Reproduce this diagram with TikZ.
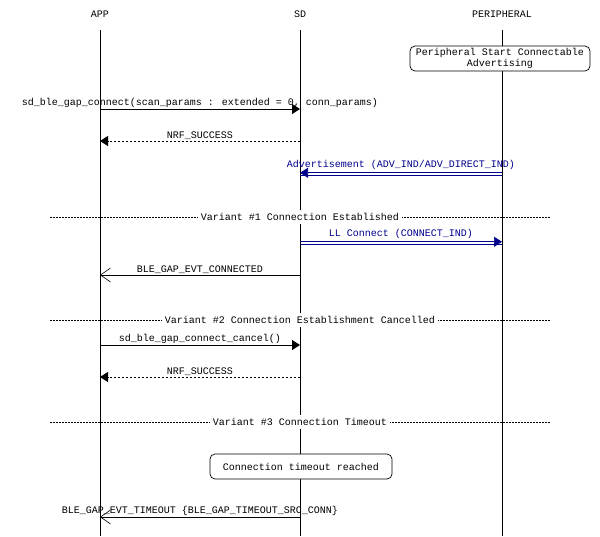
\documentclass[tikz,border=0pt]{standalone}
\usepackage{fontspec}
\setmainfont{Liberation Mono}
\usetikzlibrary{arrows.meta}
\definecolor{navyb}{RGB}{0,0,140}
\begin{document}
\begin{tikzpicture}[x=1pt,y=-1pt,font=\fontsize{10}{11.5}\selectfont,
  life/.style={line width=0.8pt},
  call/.style={line width=0.8pt,-{Triangle[length=8pt,width=10pt]}},
  ret/.style={line width=0.8pt,dash pattern=on 2pt off 2pt,-{Triangle[length=8pt,width=10pt]}},
  evt/.style={line width=0.8pt,-{Straight Barb[length=10pt,width=14pt,line width=0.6pt]}},
  airl/.style={navyb,line width=0.7pt},
  airh/.style={navyb,line width=0.7pt,-{Triangle[length=8pt,width=10pt]}},
  lbl/.style={anchor=south,inner sep=1pt},
  div/.style={line width=0.6pt,dash pattern=on 1.5pt off 1.5pt},
  divl/.style={fill=white,inner sep=3pt},
  note/.style={draw,rounded corners=5pt,line width=0.7pt,fill=white,align=center,inner sep=2pt}]
\useasboundingbox (0,0) rectangle (600,536);
\node (happ) at (100,14) {APP};
\node (hsd) at (300,14) {SD};
\node (hper) at (502,14) {PERIPHERAL};
\coordinate (eapp) at (100,536);
\coordinate (esd) at (300,536);
\coordinate (eper) at (502,536);
\draw[life] (100,30) -- (eapp);
\draw[life] (300,30) -- (esd);
\draw[life] (502,30) -- (eper);
\node[note,minimum width=180pt,minimum height=25pt] (n1) at (500,58.5) {Peripheral Start Connectable\\Advertising};
% messages
\coordinate (a1) at (100,109); \coordinate (s1) at (300,109);
\draw[call] (a1) -- node[lbl]{sd\_ble\_gap\_connect(scan\_params : extended = 0, conn\_params)} (s1);
\coordinate (a2) at (100,141); \coordinate (s2) at (300,141);
\draw[ret] (s2) -- node[lbl]{NRF\_SUCCESS} (a2);
\coordinate (s3) at (300,174); \coordinate (p3) at (502,174);
\draw[airl] ([yshift=-1.2pt]p3) -- ([yshift=-1.2pt]s3);
\draw[airh] ([yshift=1.2pt]p3) -- node[lbl,text=navyb,yshift=2pt]{Advertisement (ADV\_IND/ADV\_DIRECT\_IND)} ([yshift=1.2pt]s3);
\coordinate (d1l) at (50,217); \coordinate (d1r) at (550,217);
\draw[div] (d1l) -- node[divl]{Variant \#1 Connection Established} (d1r);
\coordinate (s4) at (300,243); \coordinate (p4) at (502,243);
\draw[airl] ([yshift=-1.2pt]s4) -- ([yshift=-1.2pt]p4);
\draw[airh] ([yshift=1.2pt]s4) -- node[lbl,text=navyb,yshift=2pt]{LL Connect (CONNECT\_IND)} ([yshift=1.2pt]p4);
\coordinate (s5) at (300,275); \coordinate (a5) at (100,275);
\draw[evt] (s5) -- node[lbl]{BLE\_GAP\_EVT\_CONNECTED} (a5);
\coordinate (d2l) at (50,320); \coordinate (d2r) at (550,320);
\draw[div] (d2l) -- node[divl]{Variant \#2 Connection Establishment Cancelled} (d2r);
\coordinate (a6) at (100,345); \coordinate (s6) at (300,345);
\draw[call] (a6) -- node[lbl]{sd\_ble\_gap\_connect\_cancel()} (s6);
\coordinate (a7) at (100,377); \coordinate (s7) at (300,377);
\draw[ret] (s7) -- node[lbl]{NRF\_SUCCESS} (a7);
\coordinate (d3l) at (50,422); \coordinate (d3r) at (550,422);
\draw[div] (d3l) -- node[divl]{Variant \#3 Connection Timeout} (d3r);
\node[note,minimum width=182pt,minimum height=25pt] (n2) at (301,466.5) {Connection timeout reached};
\coordinate (s8) at (300,517); \coordinate (a8) at (100,517);
\draw[evt] (s8) -- node[lbl]{BLE\_GAP\_EVT\_TIMEOUT \{BLE\_GAP\_TIMEOUT\_SRC\_CONN\}} (a8);
\end{tikzpicture}
\end{document}
